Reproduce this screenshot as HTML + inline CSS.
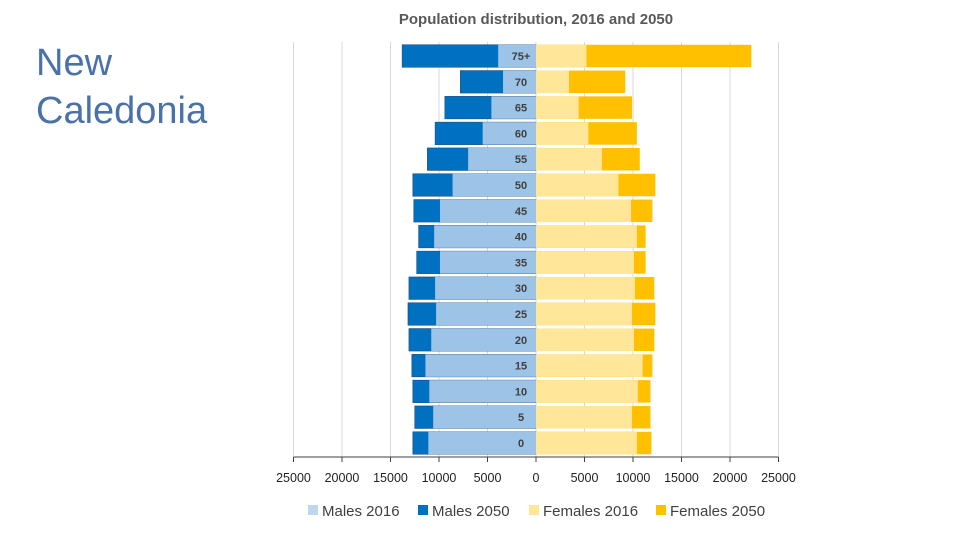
<!DOCTYPE html>
<html><head><meta charset="utf-8"><style>
body{margin:0;background:#fff;width:960px;height:540px;overflow:hidden;font-family:"Liberation Sans",sans-serif}
#title{position:absolute;left:36px;top:39px;font-size:38px;line-height:48px;color:#4a72a8}
</style></head><body>
<div id="title">New<br>Caledonia</div>
<svg id="chart" width="960" height="540" style="position:absolute;left:0;top:0"></svg>
<script>
const ages=["75+","70","65","60","55","50","45","40","35","30","25","20","15","10","5","0"];
const males2016=[3900,3400,4600,5500,7000,8600,9900,10500,9900,10400,10300,10800,11400,11000,10600,11100];
const males2050=[13800,7800,9400,10400,11200,12700,12600,12100,12300,13100,13200,13100,12800,12700,12500,12700];
const females2016=[5200,3400,4400,5400,6800,8500,9800,10400,10100,10200,9900,10100,11000,10500,9900,10400];
const females2050=[22200,9200,9900,10400,10700,12300,12000,11300,11300,12200,12300,12200,12000,11800,11800,11900];
const ticks=[-25000,-20000,-15000,-10000,-5000,0,5000,10000,15000,20000,25000];
const NS="http://www.w3.org/2000/svg";
const svg=document.getElementById('chart');
const cx=536,k=0.0097;
const xs=v=>cx+v*k;
const rowY=i=>56+i*25.8;
const bh=22.5;
function mk(t,a){const e=document.createElementNS(NS,t);for(const n in a)e.setAttribute(n,a[n]);svg.appendChild(e);return e;}
let t=mk('text',{x:536,y:24,'text-anchor':'middle','font-size':15,fill:'#595959','font-weight':'bold'});t.textContent='Population distribution, 2016 and 2050';


ticks.forEach(v=>{
 const g=mk('line',{x1:xs(v),x2:xs(v),y1:42,y2:457,stroke:'#d9d9d9','stroke-width':1});
 
 
 const tk=mk('line',{x1:xs(v),x2:xs(v),y1:457,y2:462,stroke:'#404040'});
 
 
 const l=mk('text',{x:xs(v),y:482,'text-anchor':'middle','font-size':12.5,fill:'#222'});l.textContent=String(Math.abs(v));
 
 
});
const ax=mk('line',{x1:xs(-25000),x2:xs(25000),y1:457,y2:457,stroke:'#404040'});


ages.forEach((a,i)=>{
 const y=rowY(i)-bh/2;
 let r=mk('rect',{x:xs(-males2050[i]),y:y,width:males2050[i]*k,height:bh,fill:'#0070c0',stroke:'#1f4e79','stroke-width':0.6});
 
 
 r=mk('rect',{x:xs(-males2016[i]),y:y,width:males2016[i]*k,height:bh,fill:'#9dc3e6'});
 
 
 r=mk('rect',{x:cx,y:y,width:females2050[i]*k,height:bh,fill:'#ffc000'});
 
 
 r=mk('rect',{x:cx,y:y,width:females2016[i]*k,height:bh,fill:'#ffe699'});
 
 
 const l=mk('text',{x:521,y:rowY(i)+4,'text-anchor':'middle','font-size':11,fill:'#404040','font-weight':'bold'});l.textContent=a;
 
 
});
const leg=[["Males 2016","#bdd7ee",308],["Males 2050","#0070c0",418],["Females 2016","#ffe699",529],["Females 2050","#ffc000",656]];
leg.forEach(d=>{
 const s=mk('rect',{x:d[2],y:505,width:10,height:10,fill:d[1]});
 
 
 const l=mk('text',{x:d[2]+14,y:516,'font-size':15,fill:'#404040'});l.textContent=d[0];
 
 
});
</script>
</body></html>
